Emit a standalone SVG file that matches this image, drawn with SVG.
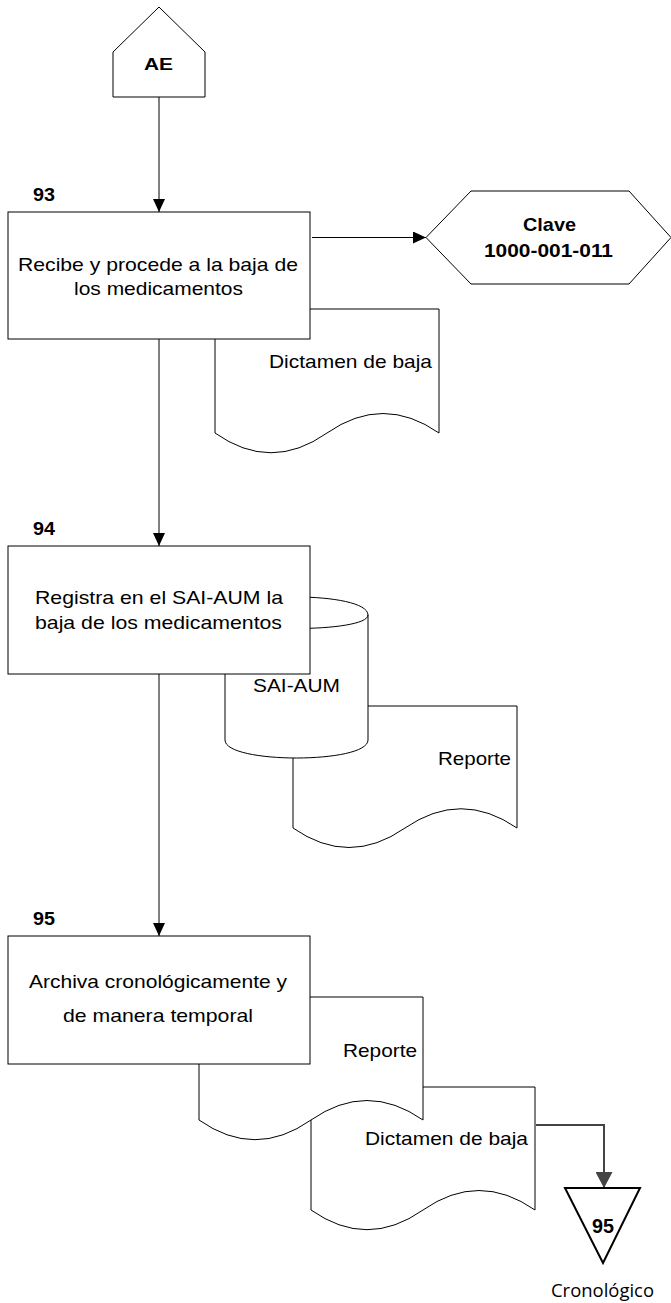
<svg xmlns="http://www.w3.org/2000/svg" width="671" height="1303" viewBox="0 0 671 1303">
  <style>
    .shape { fill: #ffffff; stroke: #000000; stroke-width: 1; }
    .line { fill: none; stroke: #000000; stroke-width: 1; }
    .txt { font-family: "Liberation Sans", Arial, Helvetica, sans-serif; font-size: 18.5px; fill: #000000; }
    .bold { font-family: "Liberation Sans", Arial, Helvetica, sans-serif; font-weight: bold; fill: #000000; }
    .note { font-family: "Open Sans", "Liberation Sans", sans-serif; font-size: 18px; fill: #000000; }
  </style>
  <defs>
    <marker id="arrow" viewBox="0 0 13 12" refX="13" refY="6" markerWidth="13" markerHeight="12" markerUnits="userSpaceOnUse" orient="auto">
      <path d="M0,0 L13,6 L0,12 Z" fill="#000000"/>
    </marker>
    <marker id="arrowBig" viewBox="0 0 16 17" refX="16" refY="8.5" markerWidth="16" markerHeight="17" markerUnits="userSpaceOnUse" orient="auto">
      <path d="M0,0 L16,8.5 L0,17 Z" fill="#444444"/>
    </marker>
  </defs>

  <!-- connectors -->
  <g id="connectors">
    <line class="line" x1="159" y1="97" x2="159" y2="212" marker-end="url(#arrow)"/>
    <line class="line" x1="312" y1="237.5" x2="426" y2="237.5" marker-end="url(#arrow)"/>
    <line class="line" x1="159" y1="339" x2="159" y2="546" marker-end="url(#arrow)"/>
    <line class="line" x1="159" y1="674" x2="159" y2="936" marker-end="url(#arrow)"/>
    <path d="M536,1125 H604 V1188" fill="none" stroke="#444444" stroke-width="2" marker-end="url(#arrowBig)"/>
  </g>

  <!-- start connector -->
  <g id="node-ae">
    <polygon class="shape" points="159,7 205,52 205,97 113,97 113,52"/>
    <text class="bold" x="144" y="70" font-size="17" textLength="29" lengthAdjust="spacingAndGlyphs">AE</text>
  </g>

  <!-- step 93 -->
  <g id="doc-dictamen-93">
    <path class="shape" d="M215,309 H439 V433 Q383,394 327,433 Q271,472.5 215,433 Z"/>
    <text class="txt" x="269" y="368" textLength="163" lengthAdjust="spacingAndGlyphs">Dictamen de baja</text>
  </g>
  <g id="node-93">
    <text class="bold" x="33" y="201" font-size="18" textLength="22" lengthAdjust="spacingAndGlyphs">93</text>
    <rect class="shape" x="8" y="212" width="302" height="127"/>
    <text class="txt" x="18" y="271" textLength="280" lengthAdjust="spacingAndGlyphs">Recibe y procede a la baja de</text>
    <text class="txt" x="74" y="295" textLength="169" lengthAdjust="spacingAndGlyphs">los medicamentos</text>
  </g>
  <g id="node-clave">
    <polygon class="shape" points="426,237.5 471,191 629,191 671,237.5 629,284 471,284"/>
    <text class="bold" x="523" y="231" font-size="19" textLength="53" lengthAdjust="spacingAndGlyphs">Clave</text>
    <text class="bold" x="484" y="257" font-size="19" textLength="129" lengthAdjust="spacingAndGlyphs">1000-001-011</text>
  </g>

  <!-- step 94 -->
  <g id="doc-reporte-94">
    <path class="shape" d="M293,706 H517 V828 Q461,789.5 405,828 Q349,867 293,828 Z"/>
    <text class="txt" x="438" y="765" textLength="73" lengthAdjust="spacingAndGlyphs">Reporte</text>
  </g>
  <g id="db-sai-aum">
    <path class="shape" d="M225,615 C225,591 368,591 368,615 L368,740 C368,764 225,764 225,740 Z"/>
    <path class="line" d="M225,615 C225,633 368,633 368,615"/>
    <text class="txt" x="253" y="692" textLength="87" lengthAdjust="spacingAndGlyphs">SAI-AUM</text>
  </g>
  <g id="node-94">
    <text class="bold" x="33" y="535" font-size="18" textLength="22" lengthAdjust="spacingAndGlyphs">94</text>
    <rect class="shape" x="8" y="546" width="302" height="128"/>
    <text class="txt" x="35" y="604" textLength="248" lengthAdjust="spacingAndGlyphs">Registra en el SAI-AUM la</text>
    <text class="txt" x="35" y="629" textLength="247" lengthAdjust="spacingAndGlyphs">baja de los medicamentos</text>
  </g>

  <!-- step 95 -->
  <g id="doc-dictamen-95">
    <path class="shape" d="M311,1087 H535 V1210 Q479,1171 423,1210 Q367,1249.4 311,1210 Z"/>
    <text class="txt" x="365" y="1145" textLength="163" lengthAdjust="spacingAndGlyphs">Dictamen de baja</text>
  </g>
  <g id="doc-reporte-95">
    <path class="shape" d="M199,997 H423 V1120 Q367,1081 311,1120 Q255,1159.4 199,1120 Z"/>
    <text class="txt" x="343" y="1057" textLength="74" lengthAdjust="spacingAndGlyphs">Reporte</text>
  </g>
  <g id="node-95">
    <text class="bold" x="33" y="925" font-size="18" textLength="22" lengthAdjust="spacingAndGlyphs">95</text>
    <rect class="shape" x="8" y="936" width="302" height="128"/>
    <text class="txt" x="29" y="988" textLength="258" lengthAdjust="spacingAndGlyphs">Archiva cronológicamente y</text>
    <text class="txt" x="63" y="1022" textLength="190" lengthAdjust="spacingAndGlyphs">de manera temporal</text>
  </g>

  <!-- archive -->
  <g id="archive-95">
    <polygon points="565,1188 640,1188 603,1263" fill="#ffffff" stroke="#000000" stroke-width="2"/>
    <text class="bold" x="592" y="1233" font-size="20" textLength="22" lengthAdjust="spacingAndGlyphs">95</text>
    <text class="note" x="551" y="1297" textLength="103" lengthAdjust="spacingAndGlyphs">Cronológico</text>
  </g>
</svg>
